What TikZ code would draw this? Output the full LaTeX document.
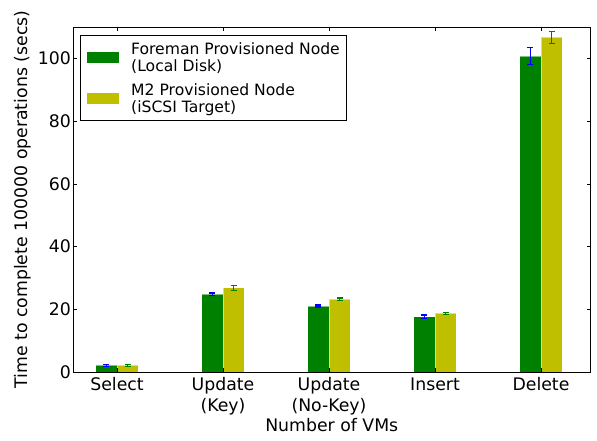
\documentclass[tikz,border=0pt]{standalone}
\usepackage{fontspec}
\usepackage{xcolor}
\setmainfont{DejaVu Sans}

\definecolor{mplgreen}{rgb}{0,0.5,0}
\definecolor{mplyellow}{rgb}{0.75,0.75,0}

% error bar: x, mean, spread, style
\newcommand{\errorbar}[4]{%
  \draw[#4] (#1,#2-#3) -- (#1,#2+#3)
    ($(#1,#2-#3)+(-3pt,0)$) -- ($(#1,#2-#3)+(3pt,0)$)
    ($(#1,#2+#3)+(-3pt,0)$) -- ($(#1,#2+#3)+(3pt,0)$);}

\usetikzlibrary{calc}

\begin{document}
\begin{tikzpicture}[x=1pt, y=1pt,
    ticklabel/.style={inner sep=0pt, font=\fontsize{17.3}{21}\selectfont},
    legendtext/.style={inner sep=0pt, anchor=north west, align=left, font=\fontsize{15.6}{17}\selectfont},
    foreman/.style={fill=mplgreen, draw=white, draw opacity=0.5, line width=0.8pt},
    mtwo/.style={fill=mplyellow, draw=white, draw opacity=0.5, line width=0.8pt},
    errblue/.style={draw=blue, line width=1.2pt},
    errgreen/.style={draw=mplgreen, line width=1.2pt}]
        \useasboundingbox (0,0) rectangle (597,441);

        \begin{scope}[x=106pt, y=3.135pt, shift={(117pt,69pt)}]
            % bars
            \path[foreman] (-0.2,0) rectangle (0,2.1);
            \path[mtwo]    (0,0)    rectangle (0.2,2.1);
            \path[foreman] (0.8,0)  rectangle (1,24.8);
            \path[mtwo]    (1,0)    rectangle (1.2,26.9);
            \path[foreman] (1.8,0)  rectangle (2,21.05);
            \path[mtwo]    (2,0)    rectangle (2.2,23.2);
            \path[foreman] (2.8,0)  rectangle (3,17.65);
            \path[mtwo]    (3,0)    rectangle (3.2,18.7);
            \path[foreman] (3.8,0)  rectangle (4,100.8);
            \path[mtwo]    (4,0)    rectangle (4.2,106.7);

            % error bars
            \errorbar{-0.1}{2.1}{0.3}{errblue}
            \errorbar{0.1}{2.1}{0.4}{errgreen}
            \errorbar{0.9}{24.8}{0.4}{errblue}
            \errorbar{1.1}{26.9}{0.8}{errgreen}
            \errorbar{1.9}{21.05}{0.3}{errblue}
            \errorbar{2.1}{23.2}{0.4}{errgreen}
            \errorbar{2.9}{17.65}{0.5}{errblue}
            \errorbar{3.1}{18.7}{0.4}{errgreen}
            \errorbar{3.9}{100.8}{2.65}{errblue}
            \errorbar{4.1}{106.7}{1.8}{errgreen}

            % frame and ticks
            \draw[line width=0.8pt] (-0.415,0) rectangle (4.467,110);
            \draw[line width=0.6pt] (-0.415,20) -- +(4pt,0) (-0.415,40) -- +(4pt,0)
                (-0.415,60) -- +(4pt,0) (-0.415,80) -- +(4pt,0) (-0.415,100) -- +(4pt,0);
            \draw[line width=0.6pt] (4.467,20) -- +(-4pt,0) (4.467,40) -- +(-4pt,0)
                (4.467,60) -- +(-4pt,0) (4.467,80) -- +(-4pt,0) (4.467,100) -- +(-4pt,0);
            \draw[line width=0.6pt] (0,0) -- +(0,4pt) (1,0) -- +(0,4pt) (2,0) -- +(0,4pt)
                (3,0) -- +(0,4pt) (4,0) -- +(0,4pt);
            \draw[line width=0.6pt] (0,110) -- +(0,-4pt) (1,110) -- +(0,-4pt) (2,110) -- +(0,-4pt)
                (3,110) -- +(0,-4pt) (4,110) -- +(0,-4pt);

            % tick labels
            \node[ticklabel, anchor=east] (y0)   at (-0.434,0)   {0};
            \node[ticklabel, anchor=east] (y20)  at (-0.434,20)  {20};
            \node[ticklabel, anchor=east] (y40)  at (-0.434,40)  {40};
            \node[ticklabel, anchor=east] (y60)  at (-0.434,60)  {60};
            \node[ticklabel, anchor=east] (y80)  at (-0.434,80)  {80};
            \node[ticklabel, anchor=east] (y100) at (-0.434,100) {100};

            \node[ticklabel, anchor=north, align=center] (select)   at (0,-1.75) {Select};
            \node[ticklabel, anchor=north, align=center] (updkey)   at (1,-1.75) {Update\\(Key)};
            \node[ticklabel, anchor=north, align=center] (updnokey) at (2,-1.75) {Update\\(No-Key)};
            \node[ticklabel, anchor=north, align=center] (insert)   at (3,-1.75) {Insert};
            \node[ticklabel, anchor=north, align=center] (delete)   at (4,-1.75) {Delete};

            % axis labels
            \node[ticklabel, anchor=base] (xlabel) at (2.026,-19.04) {Number of VMs};
            \node[ticklabel, rotate=90] (ylabel) at (-0.887,55) {Time to complete 100000 operations (secs)};
        \end{scope}

        % legend
        \draw[line width=0.8pt, fill=white] (80.7,406) rectangle (346.7,321);
        \fill[mplgreen]  (86.7,389)   rectangle (119,378);
        \fill[mplyellow] (86.7,348.3) rectangle (119,337);
        \node[legendtext] (foremantext) at (131,398.9) {Foreman Provisioned Node\\(Local Disk)};
        \node[legendtext] (mtwotext)    at (131,357.9) {M2 Provisioned Node\\(iSCSI Target)};
\end{tikzpicture}
\end{document}
